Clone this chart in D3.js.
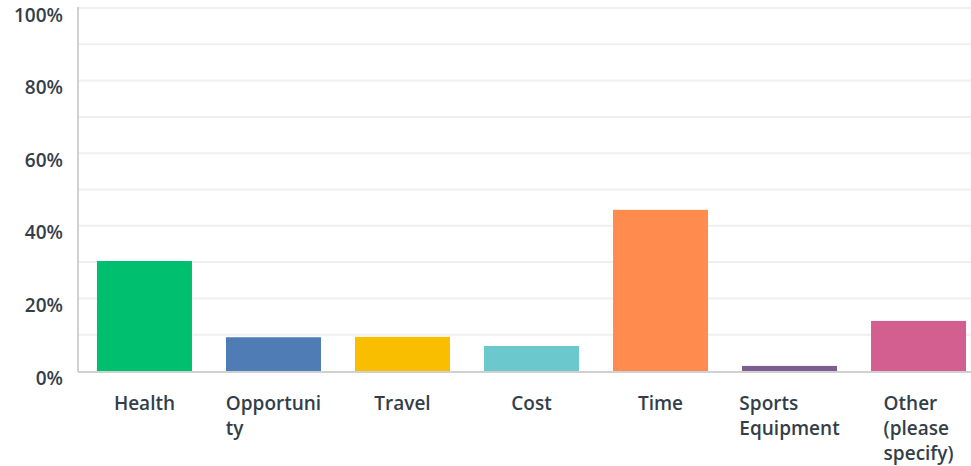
<!DOCTYPE html>
<html>
<head>
<meta charset="utf-8">
<script src="https://cdn.jsdelivr.net/npm/d3@7"></script>
<style>
  body { margin: 0; background: #fff; }
  text { font-family: "Open Sans", sans-serif; fill: #333e48; font-weight: 600; }
</style>
</head>
<body>
<svg id="chart" width="971" height="466"></svg>
<script>
// categories (each as its displayed lines), values in percent, colours
var categories = ["Health", "Opportunity", "Travel", "Cost", "Time", "Sports Equipment", "Other (please specify)"]
var labelLines = [["Health"], ["Opportuni", "ty"], ["Travel"], ["Cost"], ["Time"], ["Sports", "Equipment"], ["Other", "(please", "specify)"]]
var values = [30.3, 9.3, 9.4, 6.9, 44.4, 1.4, 13.8]
var colors = ["#00bf6f", "#507cb6", "#f9be00", "#6bc8cd", "#ff8b4f", "#7d5e90", "#d25f90"]
var gridTicks = [10, 20, 30, 40, 50, 60, 70, 80, 90, 100]
var labelTicks = [0, 20, 40, 60, 80, 100]

var svg = d3.select("#chart")
var plotLeft = 78, plotRight = 971, plotTop = 8, plotBottom = 371

var x = d3.scaleBand()
    .domain(categories)
    .range([plotLeft, 985])
    .paddingInner(0.2636)
    .paddingOuter(0.147)

var y = d3.scaleLinear().domain([0, 100]).range([plotBottom, plotTop])

// gridlines
svg.append("g").selectAll("line").data(gridTicks).join("line")
    .attr("x1", plotLeft).attr("x2", plotRight)
    .attr("y1", d => y(d)).attr("y2", d => y(d))
    .attr("stroke", "#efefef").attr("stroke-width", 2)

// y labels
svg.append("g").selectAll("text").data(labelTicks).join("text")
    .attr("x", 63).attr("y", d => y(d) + 7)
    .attr("dy", "0.35em")
    .attr("text-anchor", "end")
    .style("font-size", "19px")
    .text(d => d + "%")

// bars
svg.append("g").selectAll("rect").data(values).join("rect")
    .attr("x", (d, i) => x(categories[i]))
    .attr("width", x.bandwidth())
    .attr("y", d => y(d))
    .attr("height", d => y(0) - y(d))
    .attr("fill", (d, i) => colors[i])

// axis lines
svg.append("line").attr("x1", plotLeft).attr("x2", plotLeft).attr("y1", plotTop - 1).attr("y2", plotBottom + 1)
    .attr("stroke", "#d0d0d0").attr("stroke-width", 2)
svg.append("line").attr("x1", plotLeft).attr("x2", plotRight).attr("y1", plotBottom + 1).attr("y2", plotBottom + 1)
    .attr("stroke", "#d0d0d0").attr("stroke-width", 2)

// category labels, lines left aligned, block centred under bar
var lab = svg.append("g").selectAll("text").data(categories).join("text")
    .style("font-size", "19px")
    .attr("y", 403)
lab.each(function (c, i) {
    var t = d3.select(this)
    labelLines[i].forEach(function (ln, j) {
        t.append("tspan").attr("x", 0).attr("dy", j == 0 ? "0.35em" : "25px").text(ln)
    })
    var w = this.getBBox().width
    var x0 = x(c) + x.bandwidth() / 2 - w / 2
    t.selectAll("tspan").attr("x", x0)
})
</script>
</body>
</html>
